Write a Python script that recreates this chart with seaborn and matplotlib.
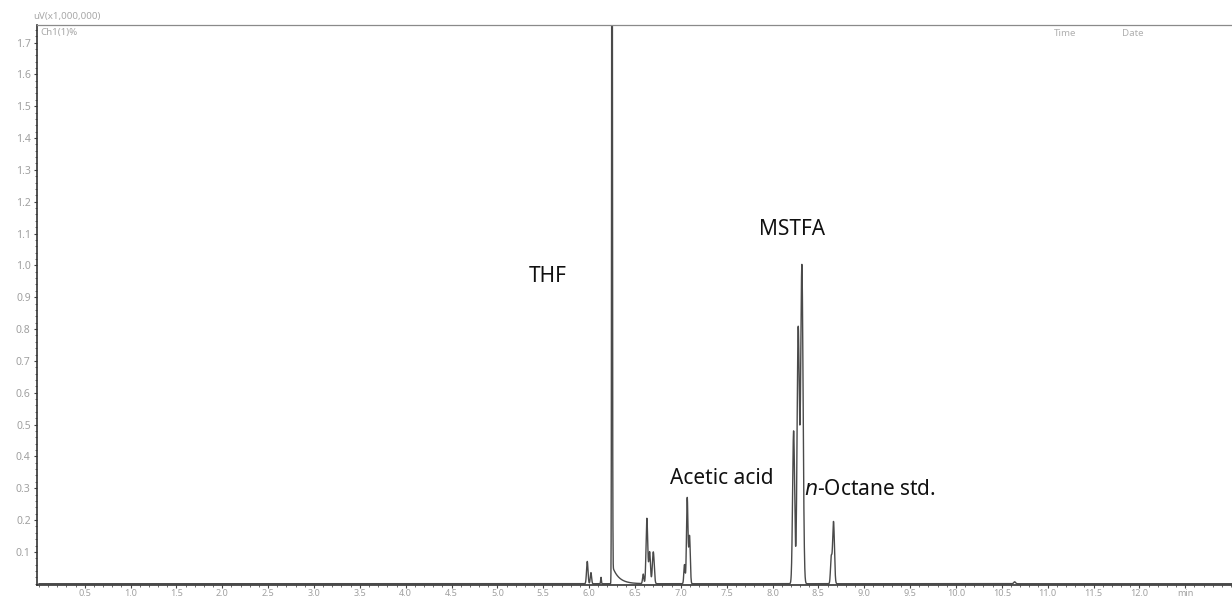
import numpy as np
import pandas as pd
import matplotlib
matplotlib.use("Agg")
import matplotlib.pyplot as plt
from matplotlib.ticker import MultipleLocator, FixedLocator
import seaborn as sns

# ---- data (retention time in min, height in uV x 1,000,000) ----
peak_times   = [5.98, 6.02, 6.13, 6.25, 6.59, 6.63, 6.66, 6.70, 7.04, 7.07, 7.095, 8.23, 8.28, 8.32, 8.64, 8.665, 10.64]
peak_heights = [0.07, 0.035, 0.02, 3.00, 0.03, 0.205, 0.10, 0.10, 0.06, 0.27, 0.15, 0.48, 0.80, 1.00, 0.08, 0.195, 0.006]
peak_sigmas  = [0.008, 0.007, 0.004, 0.004, 0.007, 0.009, 0.009, 0.010, 0.007, 0.008, 0.008, 0.011, 0.012, 0.013, 0.008, 0.010, 0.010]
# solvent (THF) tailing
tail_start = [6.26]
tail_amp   = [0.05]
tail_tau   = [0.07]

labels_text = ["THF", "MSTFA", "Acetic acid", "$\\it{n}$-Octane std."]
labels_t    = [5.55, 8.21, 7.45, 9.06]
labels_y    = [0.965, 1.113, 0.329, 0.295]

xtick_vals = [0.5 * i for i in range(1, 26)]
ytick_vals = [0.1 * i for i in range(1, 18)]

# ---- build trace ----
t = np.arange(0.0, 13.01, 0.001)
sig = np.zeros_like(t)
for c, h, s in zip(peak_times, peak_heights, peak_sigmas):
    sig += h * np.exp(-0.5 * ((t - c) / s) ** 2)
for t0, a, tau in zip(tail_start, tail_amp, tail_tau):
    m = t >= t0
    sig[m] += a * np.exp(-(t[m] - t0) / tau)
df = pd.DataFrame({"time": t, "signal": sig})

sns.set_theme(style="white")
plt.rcParams["font.family"] = ["Noto Sans", "DejaVu Sans"]

fig = plt.figure(figsize=(12.32, 5.99), dpi=100)
ax = fig.add_axes([37 / 1232, 1 - 585 / 599, 1 - 37 / 1232, (585 - 25) / 599])
sns.lineplot(data=df, x="time", y="signal", ax=ax, color="#4a4a4a", linewidth=1.0)

ax.set_xlim(-0.02, 13.01)
ax.set_ylim(-0.004, 1.755)
ax.set_xlabel("")
ax.set_ylabel("")

ax.xaxis.set_major_locator(FixedLocator(xtick_vals))
ax.set_xticklabels([f"{v:.1f}" for v in xtick_vals[:-1]] + ["min"])
ax.xaxis.set_minor_locator(MultipleLocator(0.1))
ax.yaxis.set_major_locator(FixedLocator(ytick_vals))
ax.set_yticklabels([f"{v:.1f}" for v in ytick_vals])
ax.yaxis.set_minor_locator(MultipleLocator(0.02))

ax.tick_params(axis="both", which="major", direction="out", length=2.5, width=0.8,
               color="#444444", labelcolor="#a0a0a0")
ax.tick_params(axis="x", which="major", labelsize=6.5, pad=0.5)
ax.tick_params(axis="y", which="major", labelsize=7.5, pad=2)
ax.tick_params(axis="both", which="minor", direction="out", length=1.6, width=0.6,
               color="#555555")
ax.tick_params(axis="x", which="both", bottom=True)
ax.tick_params(axis="y", which="both", left=True)

for side in ["left", "bottom"]:
    ax.spines[side].set_color("#333333")
    ax.spines[side].set_linewidth(1.2)
ax.spines["top"].set_color("#8a8a8a")
ax.spines["top"].set_linewidth(0.9)
ax.spines["right"].set_visible(False)

for txt, x, y in zip(labels_text, labels_t, labels_y):
    ax.text(x, y, txt, ha="center", va="center", fontsize=15, color="#111111")

# header texts (faint print)
fig.text(33 / 1232, 1 - 16 / 599, "uV(x1,000,000)", fontsize=7, color="#a8a8a8", va="center")
fig.text(40 / 1232, 1 - 33 / 599, "Ch1(1)%", fontsize=7, color="#a8a8a8", va="center")
fig.text(1054 / 1232, 1 - 33 / 599, "Time", fontsize=7, color="#b0b0b0", va="center")
fig.text(1122 / 1232, 1 - 33 / 599, "Date", fontsize=7, color="#b0b0b0", va="center")

fig.savefig("out.png", dpi=100)
